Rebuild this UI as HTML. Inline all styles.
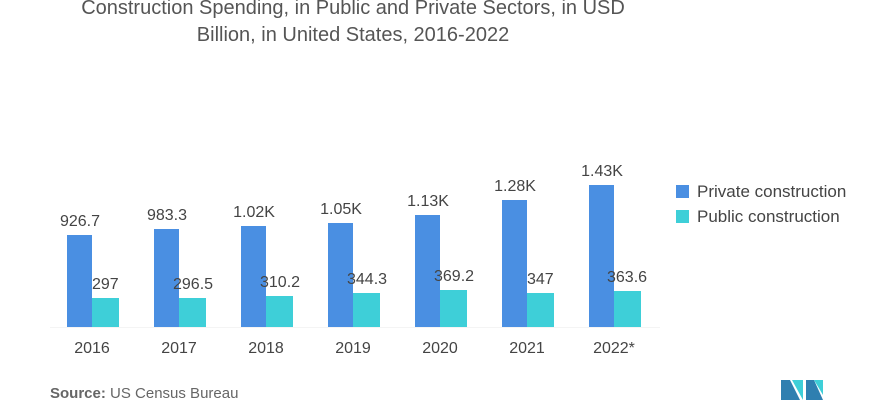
<!DOCTYPE html>
<html><head><style>
body{margin:0;width:870px;height:400px;background:#fff;overflow:hidden;position:relative;font-family:"Liberation Sans",sans-serif;color:#444}
.t{position:absolute;left:0;width:706px;text-align:center;font-size:20px;color:#555;line-height:27px;top:-5px}
</style></head><body>
<div class="t">Construction Spending, in Public and Private Sectors, in USD<br>Billion, in United States, 2016-2022</div>
<svg width="870" height="400" style="position:absolute;left:0;top:0" font-family="Liberation Sans, sans-serif" font-size="16" fill="#444">
<line x1="50" y1="327.5" x2="660" y2="327.5" stroke="#f4f4f4"/>
<rect x="67" y="235" width="25" height="92" fill="#4a8fe2"/><rect x="92" y="298" width="27" height="29" fill="#3ecfd8"/>
<rect x="154" y="229" width="25" height="98" fill="#4a8fe2"/><rect x="179" y="298" width="27" height="29" fill="#3ecfd8"/>
<rect x="241" y="226" width="25" height="101" fill="#4a8fe2"/><rect x="266" y="296" width="27" height="31" fill="#3ecfd8"/>
<rect x="328" y="223" width="25" height="104" fill="#4a8fe2"/><rect x="353" y="293" width="27" height="34" fill="#3ecfd8"/>
<rect x="415" y="215" width="25" height="112" fill="#4a8fe2"/><rect x="440" y="290" width="27" height="37" fill="#3ecfd8"/>
<rect x="502" y="200" width="25" height="127" fill="#4a8fe2"/><rect x="527" y="293" width="27" height="34" fill="#3ecfd8"/>
<rect x="589" y="185" width="25" height="142" fill="#4a8fe2"/><rect x="614" y="291" width="27" height="36" fill="#3ecfd8"/>
<g text-anchor="middle">
<text x="80" y="226">926.7</text><text x="167" y="220">983.3</text><text x="254" y="217">1.02K</text><text x="341" y="214">1.05K</text><text x="428" y="206">1.13K</text><text x="515" y="191">1.28K</text><text x="602" y="176">1.43K</text>
<text x="92" y="353">2016</text><text x="179" y="353">2017</text><text x="266" y="353">2018</text><text x="353" y="353">2019</text><text x="440" y="353">2020</text><text x="527" y="353">2021</text><text x="614" y="353">2022*</text>
</g>
<g>
<text x="92" y="289">297</text><text x="173" y="289">296.5</text><text x="260" y="287">310.2</text><text x="347" y="284">344.3</text><text x="434" y="281">369.2</text><text x="527" y="284">347</text><text x="607" y="282">363.6</text>
</g>
<rect x="676" y="185" width="13" height="13" fill="#4a8fe2"/><text x="697" y="197" font-size="17">Private construction</text>
<rect x="676" y="210" width="13" height="13" fill="#3ecfd8"/><text x="697" y="222" font-size="17">Public construction</text>
<text x="50" y="398" font-size="15" fill="#666"><tspan font-weight="bold">Source:</tspan>  US Census Bureau</text>
<polygon points="781,400 781,380 790,380 800,400" fill="#2f7fb0"/>
<polygon points="792,380 803,380 803,400" fill="#3ecfd8"/>
<polygon points="806,400 806,380 814,380 823,400" fill="#2f7fb0"/>
<polygon points="814,380 823,380 823,395" fill="#3ecfd8"/>
</svg>
</body></html>
